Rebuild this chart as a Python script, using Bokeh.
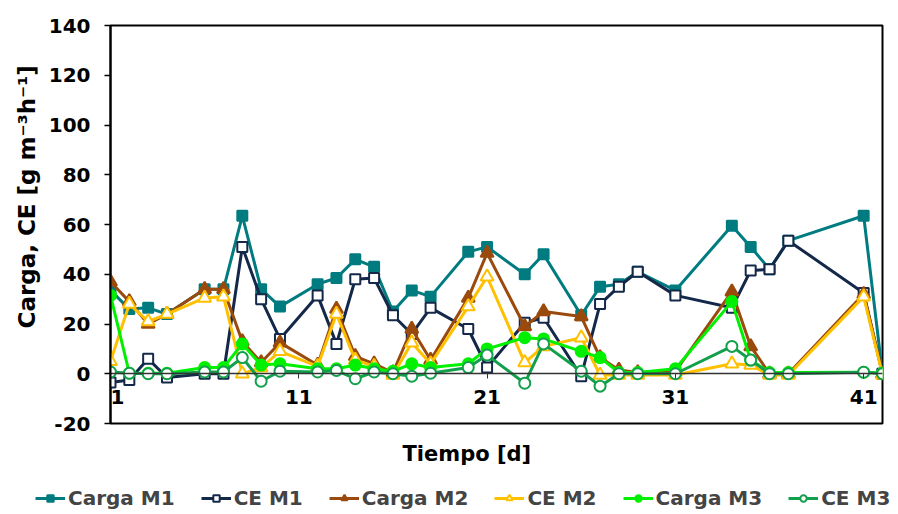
from bokeh.plotting import figure
from bokeh.layouts import column
from bokeh.models import Range1d, FixedTicker, Title, Legend, LegendItem
from bokeh.embed import file_html
from bokeh.resources import INLINE

# Measurement days
days = [1, 2, 3, 4, 6, 7, 8, 9, 10, 12, 13, 14, 15, 16, 17, 18, 20, 21, 23, 24,
        26, 27, 28, 29, 31, 34, 35, 36, 37, 41, 42]

# Load (Carga) and elimination capacity (CE) per module, g m-3 h-1
carga_m1 = [33.5, 26, 26.5, 24, 34, 34, 63.5, 34, 27, 36, 38.5, 46, 43, 25, 33.5, 31,
            49, 51, 40, 48, 23.5, 35, 36, 41, 33.5, 59.5, 51, 42, 53.5, 63.5, 0]
ce_m1 = [-3.5, -2.5, 6, -1.5, 0, 0, 51, 30, 14, 31.5, 12, 38, 38.5, 23.5, 16, 26.5,
         18, 2.5, 20.5, 22.5, -1, 28, 35, 41, 31.5, 26.5, 41.5, 42, 53.5, 32.5, 0]
carga_m2 = [37, 29, 20, 24, 34, 34, 13, 4.5, 12.5, 3.5, 26, 7, 4, 0.5, 18, 5.5,
            30.5, 48.5, 19, 25, 23, 6.5, 1.5, 0.5, 1, 33, 11, 0, 0, 32, 0]
ce_m2 = [5, 28, 21, 24, 30.5, 31, 0, 2.5, 9, 3, 24, 5.5, 3, -0.5, 12.5, 4,
         27, 39, 4.5, 11, 14.5, -0.5, -0.5, -0.5, -0.5, 4, 3.5, -0.5, -0.5, 31, -0.5]
carga_m3 = [31.5, 0.2, 0.2, 0.2, 2.5, 2.5, 12, 3.5, 4, 2, 2, 3.5, 2, 1, 4, 2.5,
            4, 10, 14.5, 14, 9, 6.5, 0.5, 0.5, 2, 29, 5.5, 0.5, 0.5, 0.6, 0.3]
ce_m3 = [0.7, 0.2, 0, 0, 0.7, 0.7, 6.5, -3, 1, 0.7, 1.3, -2, 0.7, 0, -1, 0.2,
         2.5, 7.5, -3.8, 12, 1, -5, 0, 0, 0, 11, 5.5, 0, 0, 0.6, 0]

x_ticks = [1, 11, 21, 31, 41]
y_ticks = [-20, 0, 20, 40, 60, 80, 100, 120, 140]

FONT = "DejaVu Sans"

series = [
    ("Carga M1", carga_m1, "#007B7F", "square", "#007B7F", 10),
    ("CE M1", ce_m1, "#14284A", "square", "white", 10),
    ("Carga M2", carga_m2, "#9A4A0C", "triangle", "#9A4A0C", 13),
    ("CE M2", ce_m2, "#FFC000", "triangle", "white", 13),
    ("Carga M3", carga_m3, "#00F000", "circle", "#00F000", 11),
    ("CE M3", ce_m3, "#12A04C", "circle", "white", 11),
]

fig = figure(width=898, height=482, x_range=Range1d(1, 42), y_range=Range1d(-20, 140),
             output_backend="svg", toolbar_location=None,
             min_border_left=110, min_border_right=16, min_border_top=25,
             min_border_bottom=59)
fig.grid.visible = False
fig.outline_line_color = "black"
fig.outline_line_width = 2
fig.border_fill_color = "white"

# y axis
yax = fig.yaxis[0]
yax.ticker = FixedTicker(ticks=y_ticks)
yax.major_label_overrides = {-20: "-20"}
yax.minor_tick_line_color = None
yax.major_tick_in = 0
yax.major_tick_out = 6
yax.major_tick_line_width = 1.5
yax.axis_line_width = 2
yax.major_label_standoff = 14
yax.major_label_text_font = FONT
yax.major_label_text_font_style = "bold"
yax.major_label_text_font_size = "20px"
yax.major_label_text_color = "black"

# y axis title, set a little above the frame's middle
fig.add_layout(Title(text="Carga, CE [g m\u207b\u00b3h\u207b\u00b9]", align="left", offset=95,
                     text_font=FONT, text_font_style="bold", text_font_size="23px",
                     text_color="black", standoff=12), "left")

# day axis drawn along the zero line
xax = fig.xaxis[0]
xax.fixed_location = 0
xax.ticker = FixedTicker(ticks=x_ticks)
xax.major_label_overrides = {1: "\u00a0\u00a01"}
xax.minor_tick_line_color = None
xax.major_tick_in = 0
xax.major_tick_out = 5
xax.major_tick_line_color = "#333333"
xax.axis_line_color = "#333333"
xax.axis_line_width = 1.5
xax.major_label_standoff = 6
xax.major_label_text_font = FONT
xax.major_label_text_font_style = "bold"
xax.major_label_text_font_size = "20px"
xax.major_label_text_color = "black"

fig.add_layout(Title(text="Tiempo [d]", align="left", offset=292,
                     text_font=FONT, text_font_style="bold", text_font_size="21px",
                     text_color="black", standoff=32), "below")

for name, vals, color, marker, fill, size in series:
    fig.line(days, vals, line_color=color, line_width=3)
    fig.scatter(days, vals, marker=marker, size=size, line_color=color,
                fill_color=fill, line_width=2)

# legend strip underneath the chart, spanning the full width
key = figure(width=898, height=32, x_range=Range1d(1, 42), y_range=Range1d(1000, 1001),
             output_backend="svg", toolbar_location=None,
             x_axis_location=None, y_axis_location=None,
             min_border_left=0, min_border_right=0, min_border_top=0, min_border_bottom=0)
key.frame_align = False
key.grid.visible = False
key.outline_line_color = None

items = []
for name, vals, color, marker, fill, size in series:
    ln = key.line(days, vals, line_color=color, line_width=3)
    sc = key.scatter(days, vals, marker=marker, size=size, line_color=color,
                     fill_color=fill, line_width=2)
    items.append(LegendItem(label=name, renderers=[ln, sc]))

legend = Legend(items=items, orientation="horizontal", location=(35, 4),
                label_text_font=FONT, label_text_font_style="bold",
                label_text_font_size="20px", glyph_width=30, glyph_height=16,
                label_standoff=3, spacing=26, padding=2, margin=0,
                border_line_color=None, background_fill_alpha=0)
key.add_layout(legend)

p = column(fig, key, spacing=0)

open("out.html", "w").write(file_html(p, INLINE))
